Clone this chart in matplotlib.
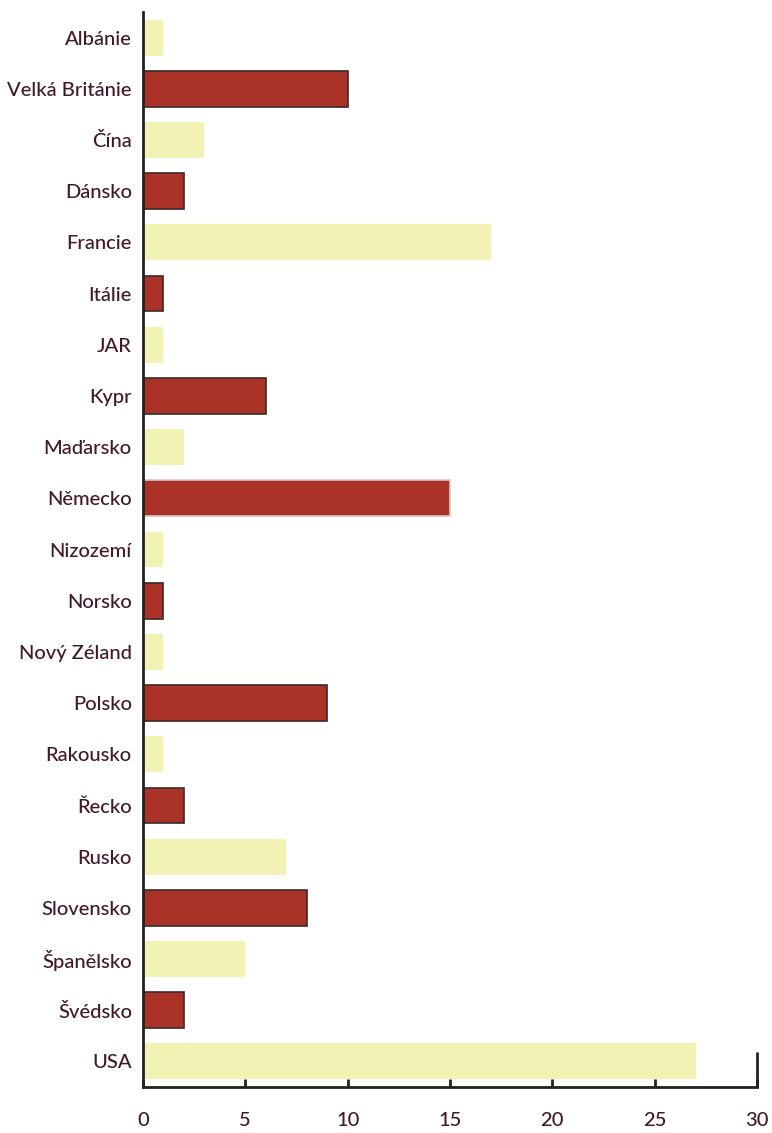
import matplotlib
matplotlib.use("Agg")
from matplotlib import pyplot as plt
from matplotlib.ticker import FixedLocator

# data
countries = ['Albánie', 'Velká Británie', 'Čína', 'Dánsko', 'Francie', 'Itálie',
             'JAR', 'Kypr', 'Maďarsko', 'Německo', 'Nizozemí', 'Norsko',
             'Nový Zéland', 'Polsko', 'Rakousko', 'Řecko', 'Rusko', 'Slovensko',
             'Španělsko', 'Švédsko', 'USA']
values = [1, 10, 3, 2, 17, 1, 1, 6, 2, 15, 1, 1, 1, 9, 1, 2, 7, 8, 5, 2, 27]
xticks = [0, 5, 10, 15, 20, 25, 30]

yellow = '#f2f2b4'
red = '#ab3226'
txt = '#42192a'

plt.rcParams['font.family'] = ['Lato', 'DejaVu Sans']

fig = plt.figure(figsize=(7.72, 11.33), dpi=100)
ax = fig.add_axes([0.1852, 0.0406, 0.7954, 0.9488])

pos = list(range(len(countries)))
colors = [yellow if i % 2 == 0 else red for i in pos]
edges = ['none' if i % 2 == 0 else '#3a2a2a' for i in pos]
edges[9] = '#d8c8c8'  # Německo has a light outline in the original
bars = ax.barh(pos, values, height=0.7, color=colors, zorder=2)
for b, e in zip(bars, edges):
    b.set_edgecolor(e)
    b.set_linewidth(1.2 if e != 'none' else 0)

ax.set_ylim(20.5, -0.5)
ax.set_xlim(0, 30)
ax.set_yticks(pos)
ax.set_yticklabels(countries, fontsize=14.5, color=txt, fontweight='medium')
ax.set_xticks(xticks)
ax.set_xticklabels([str(t) for t in xticks], fontsize=14.5, color=txt, fontweight='medium')

for s in ['top', 'right']:
    ax.spines[s].set_visible(False)
for s in ['left', 'bottom']:
    ax.spines[s].set_color('#222222')
    ax.spines[s].set_linewidth(2)
    ax.spines[s].set_zorder(3)

ax.tick_params(axis='y', length=0, pad=8)
ax.tick_params(axis='x', direction='in', length=6, width=2, color='#222222', pad=18)
# taller end tick at 30
ax.xaxis.remove_overlapping_locs = False
ax.xaxis.set_minor_locator(FixedLocator([30]))
ax.tick_params(axis='x', which='minor', direction='in', length=25, width=2, color='#222222')

fig.savefig('out.png', dpi=100)
